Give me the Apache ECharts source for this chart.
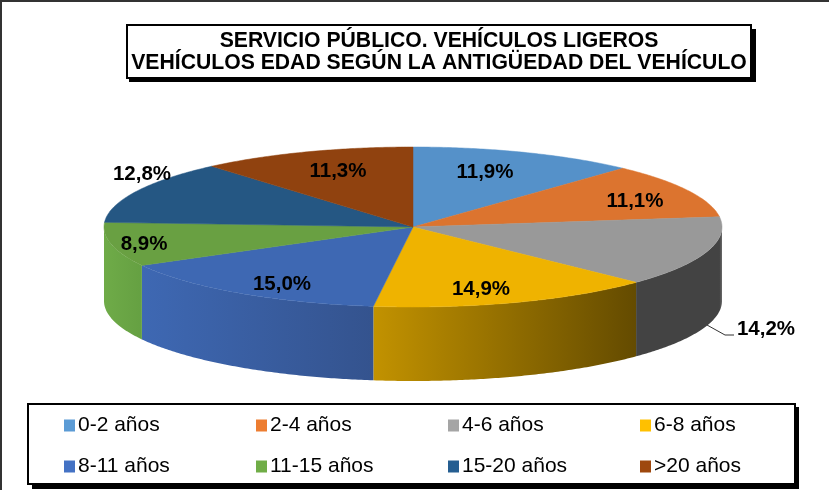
<!DOCTYPE html>
<html><head><meta charset="utf-8">
<style>html,body{margin:0;padding:0;background:#fff}#c{width:829px;height:490px}</style>
<script src="https://cdn.jsdelivr.net/npm/echarts@6/dist/echarts.min.js"></script></head>
<body><div id="c"></div>
<script>
const titleText = 'SERVICIO PÚBLICO. VEHÍCULOS LIGEROS\nVEHÍCULOS EDAD SEGÚN LA ANTIGÜEDAD DEL VEHÍCULO';
const categories = ['0-2 años','2-4 años','4-6 años','6-8 años','8-11 años','11-15 años','15-20 años','>20 años'];
const shares = [11.9,11.1,14.2,14.9,15.0,8.9,12.8,11.3];

// styling & layout (not data)
const topColors  = ['#5591C9','#DC742F','#999999','#EFB300','#3E68B3','#69A042','#255783','#90420F'];
const keyColors  = ['#5B9BD5','#ED7D31','#A5A5A5','#FFC000','#4472C4','#70AD47','#255E91','#9E480E'];
const sideColors = [null,null,[[0,'#434343'],[0.97,'#434343'],[1,'#6a6a6a']],[[0,'#C29200'],[1,'#644B00']],[[0,'#3E68B3'],[1,'#34538E']],[[0,'#6FAB48'],[1,'#65A042']],null,null];
const labelAnchors = [[485,172],[635,201],[766,329],[481,289],[282,284],[144,244],[142,174],[338,171]];
const CX=413, CY=227, RX=309, RY=80, DEPTH=74;
const legendX=[64,256,448,640], legendY=[424,465];

const total = shares.reduce((a,b)=>a+b,0);
const starts = []; shares.reduce((acc,v,i)=>{starts[i]=acc; return acc+v;},0);
const toAngle = v => v/total*2*Math.PI;
const rim = (t,dy=0)=>[CX+RX*Math.sin(t), CY-RY*Math.cos(t)+dy];
function arc(a,b,dy=0){const n=Math.max(2,Math.ceil((b-a)/0.01));const p=[];for(let k=0;k<=n;k++)p.push(rim(a+(b-a)*k/n,dy));return p;}

function renderSlice(i){
  return function(params,api){
    const a=toAngle(starts[i]), b=a+toAngle(api.value(0));
    const children=[];
    const sa=Math.max(a,Math.PI/2), sb=Math.min(b,3*Math.PI/2);
    if(sb>sa && sideColors[i]){
      const up=arc(sa,sb), down=arc(sa,sb,DEPTH).reverse();
      const x0=Math.min(rim(sa)[0],rim(sb)[0]), x1=Math.max(rim(sa)[0],rim(sb)[0]);
      children.push({type:'polygon',z2:1,shape:{points:up.concat(down)},
        style:{fill:new echarts.graphic.LinearGradient(x0,0,x1,0,sideColors[i].map(s=>({offset:s[0],color:s[1]})),true),stroke:null}});
    }
    children.push({type:'polygon',z2:2,shape:{points:[[CX,CY]].concat(arc(a,b))},style:{fill:topColors[i],stroke:topColors[i],lineWidth:0.5}});
    if(i===2){children.push({type:'polyline',z2:3,shape:{points:[[707,325],[725,335],[734,335]]},style:{stroke:'#333',lineWidth:1,fill:null}});}
    children.push({type:'text',z2:5,style:{x:labelAnchors[i][0],y:labelAnchors[i][1],
      text:api.value(0).toFixed(1).replace('.',',')+'%',align:'center',verticalAlign:'middle',
      font:'bold 20.5px "Liberation Sans"',fill:'#000'}});
    return {type:'group',children};
  };
}

const chart=echarts.init(document.getElementById('c'),null,{renderer:'canvas'});
chart.setOption({
  animation:false,
  backgroundColor:'#fff',
  title:{text:titleText,left:435,top:25,textAlign:'center',padding:[5,4,4,4],borderColor:'#000',borderWidth:2,backgroundColor:'#fff',
    textStyle:{fontFamily:'Liberation Sans',fontWeight:'bold',fontSize:21.2,lineHeight:22,color:'#000'}},
  graphic:[
    {type:'rect',z:0,shape:{x:1,y:1,width:840,height:500},style:{fill:'#fff',stroke:'#333',lineWidth:2}},
    {type:'rect',z:0,shape:{x:129,y:29,width:627,height:53},style:{fill:'#000'}},
    {type:'rect',z:0,shape:{x:32,y:407,width:767,height:82},style:{fill:'#000'}},
    {type:'rect',z:0,shape:{x:28,y:404,width:767,height:80},style:{fill:'#fff',stroke:'#000',lineWidth:2}}
  ],
  legend:categories.map((c,i)=>({data:[c],left:legendX[i%4],top:legendY[Math.floor(i/4)]-9,icon:'rect',itemWidth:11,itemHeight:12,itemGap:0,padding:0,
    selectedMode:false,textStyle:{fontFamily:'Liberation Sans',fontSize:21,color:'#000',padding:[0,0,0,-2]}})),
  series:categories.map((c,i)=>({type:'custom',name:c,coordinateSystem:'none',silent:true,
    itemStyle:{color:keyColors[i]},renderItem:renderSlice(i),data:[[shares[i]]]}))
});
</script></body></html>
